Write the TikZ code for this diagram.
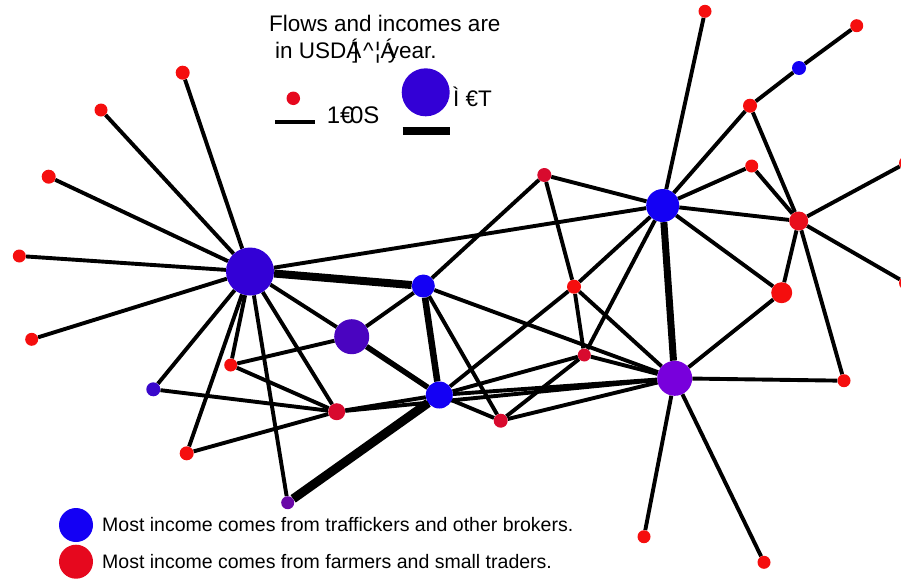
\documentclass[tikz,border=0pt]{standalone}
\usepackage{fontspec}
\setmainfont{Liberation Sans}
\usetikzlibrary{backgrounds}
\definecolor{cA}{HTML}{3300D6}
\definecolor{cB}{HTML}{4A04C0}
\definecolor{cBlue}{HTML}{1400F4}
\definecolor{cF}{HTML}{3A08CC}
\definecolor{cI}{HTML}{6A08A8}
\definecolor{cN}{HTML}{7800DC}
\definecolor{cRed}{HTML}{F50E0E}
\definecolor{cCrim}{HTML}{D80A2E}
\definecolor{cAA}{HTML}{E80E1C}
\definecolor{cLegRed}{HTML}{E6081E}
\tikzset{
  dot/.style={circle, inner sep=0pt, minimum size=#1, draw=none},
  edge/.style={line width=3.9pt, black},
  thick edge/.style={line width=#1, black},
  legtext/.style={anchor=base west, inner sep=0pt, font=\fontsize{22.5}{26}\selectfont},
  keytext/.style={anchor=base west, inner sep=0pt, font=\fontsize{19.5}{22}\selectfont},
}
\begin{document}
\begin{tikzpicture}[x=1pt,y=-1pt]
\useasboundingbox (0,0) rectangle (901,579);
% nodes
\node[dot=48pt, fill=cA] (A) at (250,271.5) {};
\node[dot=35pt, fill=cB] (B) at (351.7,336.7) {};
\node[dot=23pt, fill=cBlue] (C) at (423.3,286) {};
\node[dot=27pt, fill=cBlue] (D) at (439.3,395) {};
\node[dot=13pt, fill=cRed] (E) at (230.7,365) {};
\node[dot=14pt, fill=cF] (F) at (153.3,389.3) {};
\node[dot=17pt, fill=cCrim] (G) at (336.7,411.7) {};
\node[dot=14pt, fill=cRed] (H) at (186.7,453.3) {};
\node[dot=13pt, fill=cI] (I) at (287.7,502.7) {};
\node[dot=14pt, fill=cCrim] (J) at (544.3,175) {};
\node[dot=33pt, fill=cBlue] (K) at (662.7,205.5) {};
\node[dot=14pt, fill=cRed] (L) at (574,286.7) {};
\node[dot=13pt, fill=cCrim] (M) at (584.3,355) {};
\node[dot=35pt, fill=cN] (N) at (674.7,378.3) {};
\node[dot=14pt, fill=cCrim] (O) at (500.7,420.7) {};
\node[dot=21pt, fill=cRed] (P) at (781.7,292.7) {};
\node[dot=13pt, fill=cRed] (Q) at (844,380.7) {};
\node[dot=13pt, fill=cRed] (R) at (644,536.7) {};
\node[dot=13pt, fill=cRed] (S) at (764,562.3) {};
\node[dot=14pt, fill=cRed] (T) at (906,283) {};
\node[dot=13pt, fill=cRed] (U) at (705,11.3) {};
\node[dot=13pt, fill=cRed] (V) at (856.7,25.7) {};
\node[dot=14pt, fill=cBlue] (W) at (799,68) {};
\node[dot=14pt, fill=cRed] (X) at (750,105.7) {};
\node[dot=13pt, fill=cRed] (Y) at (751.7,166) {};
\node[dot=14pt, fill=cRed] (Z) at (906,163) {};
\node[dot=19pt, fill=cAA] (AA) at (798.7,221) {};
\node[dot=14pt, fill=cRed] (p1) at (182.7,72.7) {};
\node[dot=13pt, fill=cRed] (p2) at (101,110) {};
\node[dot=14pt, fill=cRed] (p3) at (48.7,176.7) {};
\node[dot=13pt, fill=cRed] (p4) at (19.3,256) {};
\node[dot=13pt, fill=cRed] (p5) at (31.7,339.3) {};
% edges
\begin{pgfonlayer}{background}
\foreach \a/\b in {A/p1,A/p2,A/p3,A/p4,A/p5,A/K,A/B,A/G,A/I,A/E,A/H,A/F,
  B/C,B/E,C/J,C/N,C/O,D/G,D/L,D/M,D/N,D/O,E/G,F/G,H/G,G/N,
  J/K,J/L,K/L,K/M,K/U,K/X,K/Y,K/AA,K/P,L/M,L/N,M/O,M/N,O/N,
  N/P,N/Q,N/R,N/S,AA/X,AA/Y,AA/Z,AA/T,AA/P,AA/Q,X/W,W/V}
  \draw[edge] (\a) -- (\b);
\draw[thick edge=8pt] (A) -- (C);
\draw[thick edge=6.5pt] (C) -- (D);
\draw[thick edge=7pt] (K) -- (N);
\draw[thick edge=9pt] (D) -- (I);
\draw[thick edge=5.5pt] (B) -- (D);
\end{pgfonlayer}
% size legend
\node[legtext] (t1) at (269,31.7) {Flows and incomes are};
\node[legtext] (t2) at (275,58.3) {in USDÁ\kern-0.4em]\kern0.2em\textasciicircum\kern0.05em¦Á\kern-0.35em year.};
\node[dot=13.5pt, fill=cLegRed] (ls) at (293.3,98.3) {};
\coordinate (l1a) at (275,122.3);
\coordinate (l1b) at (315,122.3);
\draw[edge] (l1a) -- (l1b);
\node[legtext, font=\fontsize{24}{26}\selectfont] (t3) at (326.7,123.3) {1€\kern-0.15em0S};
\node[dot=48pt, fill=cA] (lb) at (425.7,92.3) {};
\coordinate (l2a) at (402.7,131);
\coordinate (l2b) at (450,131);
\draw[thick edge=8pt] (l2a) -- (l2b);
\node[legtext] (t4) at (453,106.7) {Ì €T};
% colour key
\node[dot=34pt, fill=cBlue] (kb) at (76,525) {};
\node[dot=34pt, fill=cLegRed] (kr) at (76,561.7) {};
\node[keytext] (k1) at (102,531.7) {Most income comes from traffickers and other brokers.};
\node[keytext] (k2) at (102,568) {Most income comes from farmers and small traders.};
\end{tikzpicture}
\end{document}
